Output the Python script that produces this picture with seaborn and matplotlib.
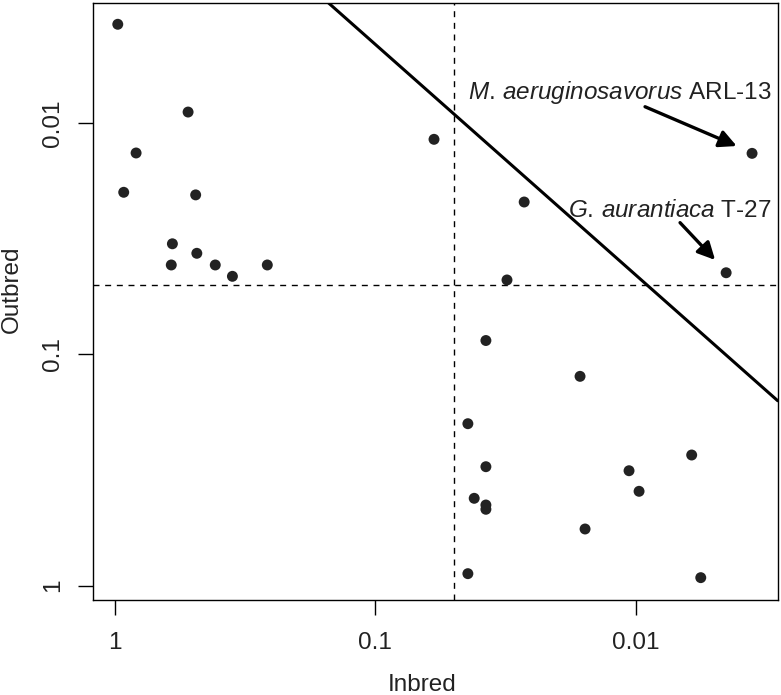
import matplotlib
matplotlib.use("Agg")
import matplotlib.pyplot as plt
import seaborn as sns
import pandas as pd

# inbred vs outbred values (log-log, both axes reversed)
inbred = [0.976, 0.524, 0.830, 0.926, 0.490, 0.602, 0.485, 0.608, 0.412, 0.354, 0.260,
          0.0595, 0.00357, 0.0268, 0.00449, 0.0312, 0.0376, 0.01635, 0.0441, 0.00609,
          0.0376, 0.0106, 0.0097, 0.0417, 0.0376, 0.0376, 0.01564, 0.0441, 0.00562]
outbred = [0.00373, 0.00894, 0.01344, 0.01988, 0.0204, 0.0332, 0.0365, 0.0410, 0.0410, 0.0459, 0.0410,
           0.01173, 0.01349, 0.0219, 0.0443, 0.0476, 0.0870, 0.1243, 0.1992, 0.2721,
           0.3057, 0.3182, 0.3906, 0.4188, 0.4477, 0.4672, 0.5685, 0.887, 0.923]

cutoff = 0.05
boundary_a = (0.1516, 0.00301)
boundary_b = (0.002845, 0.1585)

tick_vals = [1, 0.1, 0.01]
tick_labels = ["1", "0.1", "0.01"]

df = pd.DataFrame({"Inbred": inbred, "Outbred": outbred})

sns.set_style("white")
plt.rcParams["font.family"] = ["Liberation Sans", "DejaVu Sans"]
plt.rcParams["mathtext.fontset"] = "custom"
plt.rcParams["mathtext.rm"] = "Liberation Sans"
plt.rcParams["mathtext.it"] = "Liberation Sans:italic"

fs = 17.5

fig = plt.figure(figsize=(7.81, 6.95), dpi=100)
ax = fig.add_axes([0.1195, 0.1367, 0.8763, 0.8594])

ax.set_xscale("log")
ax.set_yscale("log")

sns.scatterplot(data=df, x="Inbred", y="Outbred", ax=ax, s=62, color="#222222",
                edgecolor="none", linewidth=0, zorder=3)

ax.axvline(cutoff, color="black", lw=1, linestyle=(0, (4.3, 4.1)))
ax.axhline(cutoff, color="black", lw=1, linestyle=(0, (4.3, 4.1)))
ax.axline(boundary_a, boundary_b, color="black", lw=2.2)

ax.set_xlim(1.2116, 0.002845)
ax.set_ylim(1.153, 0.003009)

ax.set_xticks(tick_vals)
ax.set_xticklabels(tick_labels)
ax.set_yticks(tick_vals)
ax.set_yticklabels(tick_labels, rotation=90, va="center")
ax.minorticks_off()
ax.tick_params(axis="both", direction="out", length=10.8, width=1, color="black",
               labelsize=fs, labelcolor="#222222", bottom=True, left=True)
ax.tick_params(axis="x", pad=12)
ax.tick_params(axis="y", pad=10)

for sp in ax.spines.values():
    sp.set_color("black")
    sp.set_linewidth(1)

ax.set_xlabel("Inbred", fontsize=fs, color="#222222")
ax.set_ylabel("Outbred", fontsize=fs, color="#222222")
ax.xaxis.set_label_coords(0.48, -0.142)
ax.xaxis.label.set_va("center")
ax.yaxis.set_label_coords(-0.1188, 0.52)
ax.yaxis.label.set_va("center")

# labelled strains
ax.text(0.0030, 0.00787, r"$\mathit{M.\,aeruginosavorus}$ ARL-13", ha="right", va="baseline",
        fontsize=fs, color="#222222")
ax.text(0.0030, 0.02535, r"$\mathit{G.\,aurantiaca}$ T-27", ha="right", va="baseline",
        fontsize=fs, color="#222222")
arrow = dict(arrowstyle="-|>", lw=2.4, color="black", mutation_scale=26, shrinkA=0, shrinkB=0)
ax.annotate("", xy=(0.00409, 0.01254), xytext=(0.00920, 0.00848), arrowprops=arrow)
ax.annotate("", xy=(0.00495, 0.0390), xytext=(0.00675, 0.0269), arrowprops=arrow)

fig.savefig("out.png", dpi=100)
